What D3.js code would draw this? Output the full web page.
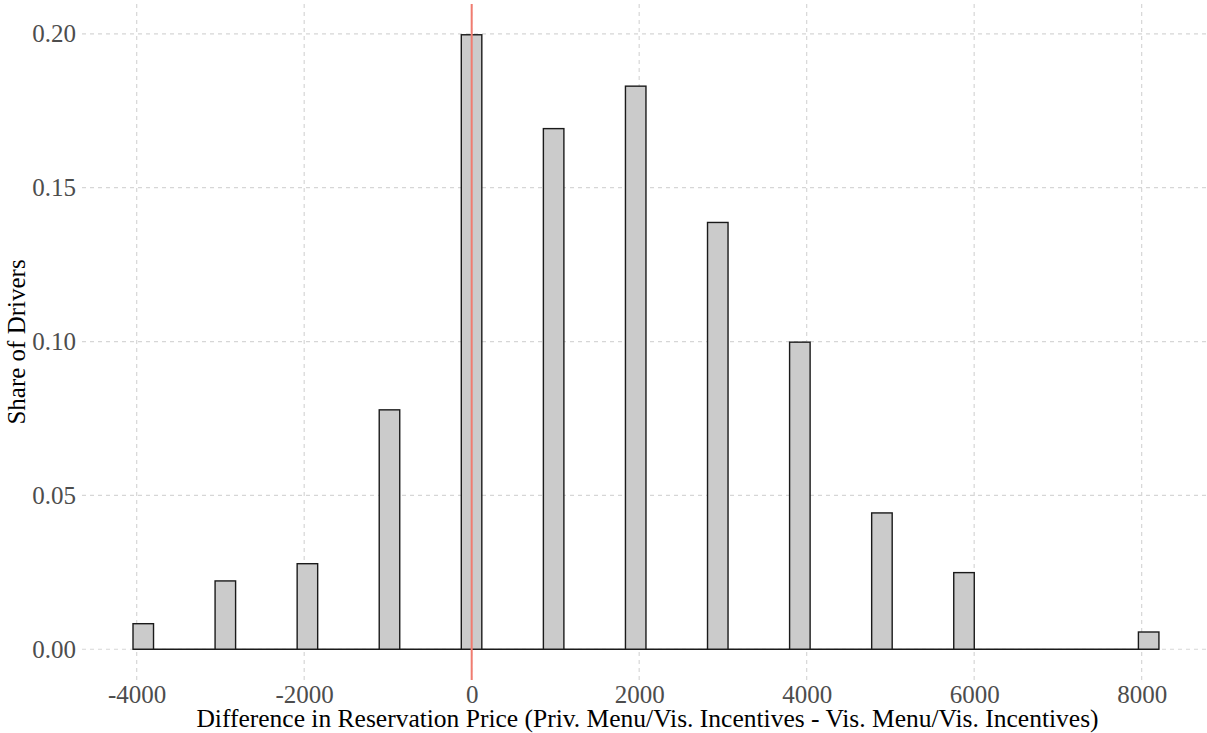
<!DOCTYPE html>
<html>
<head>
<meta charset="utf-8">
<script src="https://cdn.jsdelivr.net/npm/d3@7"></script>
<style>
  html, body { margin: 0; padding: 0; background: #ffffff; }
  svg { display: block; }
  text { font-family: "Liberation Serif", "Times New Roman", serif; }
</style>
</head>
<body>
<svg id="chart" width="1207" height="733"></svg>
<script>
// ---- data ----
const binStarts = [-4044, -3064, -2084, -1104, -124, 856, 1836, 2816, 3796, 4776, 5756, 7961];
const binWidth = 245;
const shares = [0.0083, 0.0222, 0.0278, 0.0778, 0.1997, 0.1692, 0.1830, 0.1387, 0.0998, 0.0443, 0.0249, 0.0056];
const xTicks = [-4000, -2000, 0, 2000, 4000, 6000, 8000];
const yTicks = [0.00, 0.05, 0.10, 0.15, 0.20];
const refLineX = 0;
const xTitle = "Difference in Reservation Price (Priv. Menu/Vis. Incentives - Vis. Menu/Vis. Incentives)";
const yTitle = "Share of Drivers";

// ---- layout ----
const W = 1207, H = 733;
const panel = { left: 82, right: 1207, top: 4, bottom: 680 };

const svg = d3.select("#chart");

const x = d3.scaleLinear().domain([-4653, 8780]).range([panel.left, panel.right]);
const y = d3.scaleLinear().domain([-0.01, 0.2097]).range([panel.bottom, panel.top]);

// grid
const grid = svg.append("g");
grid.selectAll("line.h").data(yTicks).join("line")
  .attr("x1", panel.left).attr("x2", panel.right)
  .attr("y1", d => y(d)).attr("y2", d => y(d))
  .attr("stroke", "#d6d6d6").attr("stroke-width", 1.2).attr("stroke-dasharray", "4,4");
grid.selectAll("line.v").data(xTicks).join("line")
  .attr("x1", d => x(d)).attr("x2", d => x(d))
  .attr("y1", panel.top).attr("y2", panel.bottom)
  .attr("stroke", "#d6d6d6").attr("stroke-width", 1.2).attr("stroke-dasharray", "4,4");

// axes labels via d3 axes (no domain, no ticks)
const xAxis = svg.append("g")
  .attr("transform", `translate(0,${panel.bottom})`)
  .call(d3.axisBottom(x).tickValues(xTicks).tickFormat(d => String(d)).tickSize(0));
xAxis.select(".domain").remove();
xAxis.selectAll("text")
  .attr("font-family", "Liberation Serif, serif")
  .attr("font-size", 25).attr("fill", "#4d4d4d")
  .attr("y", 23).attr("dy", null);

const yAxis = svg.append("g")
  .attr("transform", `translate(${panel.left},0)`)
  .call(d3.axisLeft(y).tickValues(yTicks).tickFormat(d3.format(".2f")).tickSize(0).tickPadding(6));
yAxis.select(".domain").remove();
yAxis.selectAll("text")
  .attr("font-family", "Liberation Serif, serif")
  .attr("font-size", 25).attr("fill", "#4d4d4d");

// baseline for empty bins
const lastEnd = binStarts[binStarts.length - 1] + binWidth;
svg.append("line")
  .attr("x1", x(binStarts[0])).attr("x2", x(lastEnd))
  .attr("y1", y(0)).attr("y2", y(0))
  .attr("stroke", "#1a1a1a").attr("stroke-width", 1.4);

// bars
const bars = binStarts.map((s, i) => ({ s, v: shares[i] }));
svg.append("g").selectAll("rect").data(bars).join("rect")
  .attr("x", d => x(d.s))
  .attr("width", d => x(d.s + binWidth) - x(d.s))
  .attr("y", d => y(d.v))
  .attr("height", d => y(0) - y(d.v))
  .attr("fill", "#cbcbcb")
  .attr("stroke", "#1a1a1a").attr("stroke-width", 1.4);

// reference line
svg.append("line")
  .attr("x1", x(refLineX)).attr("x2", x(refLineX))
  .attr("y1", panel.top).attr("y2", panel.bottom)
  .attr("stroke", "#f07c70").attr("stroke-width", 2);

// titles
svg.append("text")
  .attr("x", 647.5).attr("y", 727)
  .attr("text-anchor", "middle")
  .attr("font-size", 25.5).attr("fill", "#000")
  .text(xTitle);

svg.append("text")
  .attr("transform", `translate(25,${(panel.top + panel.bottom) / 2}) rotate(-90)`)
  .attr("text-anchor", "middle")
  .attr("font-size", 25).attr("fill", "#000")
  .text(yTitle);
</script>
</body>
</html>
